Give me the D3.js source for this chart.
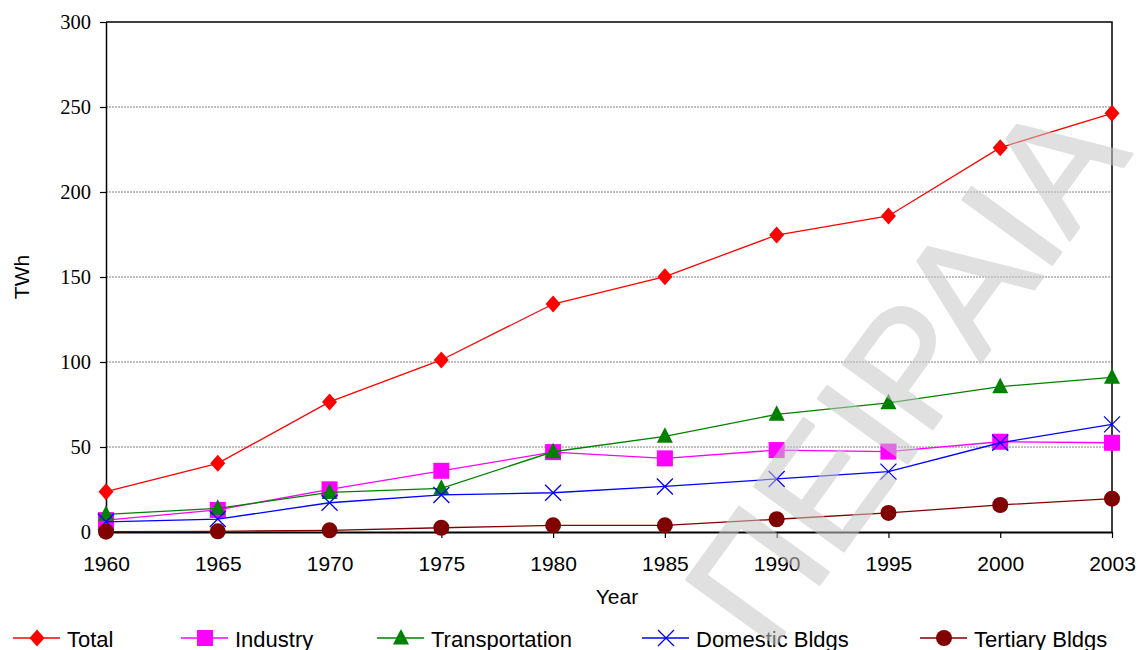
<!DOCTYPE html>
<html>
<head>
<meta charset="utf-8">
<script src="https://cdn.jsdelivr.net/npm/d3@7"></script>
<style>
  html, body { margin: 0; padding: 0; background: #fff; }
  svg { display: block; }
</style>
</head>
<body>
<svg id="chart" width="1138" height="650"></svg>
<script>
// Electricity consumption by sector, TWh
const years = ["1960", "1965", "1970", "1975", "1980", "1985", "1990", "1995", "2000", "2003"];
const total          = [23.7, 40.4, 76.5, 101.2, 134.1, 150.2, 174.7, 185.9, 226.1, 246.3];
const industry       = [7.0, 13.0, 25.1, 36.0, 47.0, 43.3, 48.2, 47.3, 53.1, 52.5];
const transportation = [10.4, 13.9, 23.3, 25.7, 47.2, 56.3, 69.2, 76.0, 85.5, 91.0];
const domestic       = [6.0, 7.6, 17.2, 21.8, 23.1, 26.8, 31.2, 35.5, 52.5, 63.3];
const tertiary       = [0.2, 0.4, 1.0, 2.5, 3.9, 3.9, 7.5, 11.2, 15.9, 19.6];
const yTicks = [0, 50, 100, 150, 200, 250, 300];
const seriesNames = ["Total", "Industry", "Transportation", "Domestic Bldgs", "Tertiary Bldgs"];

const series = [
  { name: seriesNames[0], values: total,          color: "#ff0000", marker: "diamond" },
  { name: seriesNames[1], values: industry,       color: "#ff00ff", marker: "square" },
  { name: seriesNames[2], values: transportation, color: "#008000", marker: "triangle" },
  { name: seriesNames[3], values: domestic,       color: "#0000ff", marker: "cross" },
  { name: seriesNames[4], values: tertiary,       color: "#800000", marker: "circle" }
];

const svg = d3.select("#chart");
const sans = "'Liberation Sans', Arial, Helvetica, sans-serif";
const serif = "'Liberation Serif', 'Times New Roman', serif";

const plotL = 106, plotR = 1112, plotT = 22, plotB = 532;
const x = d3.scalePoint().domain(years).range([plotL, plotR]);
const y = d3.scaleLinear().domain([0, 300]).range([plotB, plotT]);

// horizontal gridlines
svg.append("g")
  .selectAll("line")
  .data(yTicks.filter(v => v > 0 && v < 300))
  .join("line")
  .attr("x1", plotL).attr("x2", plotR)
  .attr("y1", d => y(d)).attr("y2", d => y(d))
  .attr("stroke", "#808080")
  .attr("stroke-width", 1)
  .attr("stroke-dasharray", "2,1");

// frame: top and right edges
svg.append("path")
  .attr("d", `M${plotL},${plotT}H${plotR}V${plotB}`)
  .attr("fill", "none").attr("stroke", "#000").attr("stroke-width", 1.5);

// y axis
const yAxis = svg.append("g")
  .attr("transform", `translate(${plotL},0)`)
  .call(d3.axisLeft(y).tickValues(yTicks).tickSize(6).tickPadding(9).tickSizeOuter(0));
yAxis.select(".domain").attr("stroke-width", 1.5);
yAxis.selectAll(".tick line").attr("stroke-width", 1.2);
yAxis.selectAll("text")
  .attr("font-family", serif).attr("font-size", 20.5).attr("fill", "#000");

// x axis
const xAxis = svg.append("g")
  .attr("transform", `translate(0,${plotB})`)
  .call(d3.axisBottom(x).tickSize(6).tickPadding(18).tickSizeOuter(0));
xAxis.select(".domain").attr("stroke-width", 2);
xAxis.selectAll(".tick line").attr("stroke-width", 1.2);
xAxis.selectAll("text")
  .attr("font-family", sans).attr("font-size", 21).attr("fill", "#000");

// axis titles
svg.append("text")
  .attr("x", 617).attr("y", 604)
  .attr("text-anchor", "middle")
  .attr("font-family", sans).attr("font-size", 21)
  .text("Year");
svg.append("text")
  .attr("transform", "translate(29,277) rotate(-90)")
  .attr("text-anchor", "middle")
  .attr("font-family", sans).attr("font-size", 21)
  .text("TWh");

// marker shapes
function drawMarker(g, type, color) {
  if (type === "diamond") {
    g.append("path").attr("d", "M0,-8.5L7.5,0L0,8.5L-7.5,0Z").attr("fill", color);
  } else if (type === "square") {
    g.append("rect").attr("x", -8).attr("y", -8).attr("width", 16).attr("height", 16).attr("fill", color);
  } else if (type === "triangle") {
    g.append("path").attr("d", "M0,-9L8,6.5L-8,6.5Z").attr("fill", color);
  } else if (type === "cross") {
    g.append("path").attr("d", "M-8,-8L8,8M-8,8L8,-8")
      .attr("stroke", color).attr("stroke-width", 1.3).attr("fill", "none");
  } else if (type === "circle") {
    g.append("circle").attr("r", 8).attr("fill", color);
  }
}

const line = d3.line().x((d, i) => x(years[i])).y(d => y(d));

series.forEach(s => {
  const g = svg.append("g");
  g.append("path")
    .attr("d", line(s.values))
    .attr("fill", "none")
    .attr("stroke", s.color)
    .attr("stroke-width", 1.3);
  s.values.forEach((v, i) => {
    const m = g.append("g").attr("transform", `translate(${x(years[i])},${y(v)})`);
    drawMarker(m, s.marker, s.color);
  });
});

// legend
const legendX = [37, 205, 401, 666, 944];
const legendY = 638;
series.forEach((s, i) => {
  const g = svg.append("g").attr("transform", `translate(${legendX[i]},${legendY})`);
  g.append("line").attr("x1", -24).attr("x2", 23).attr("y1", 0).attr("y2", 0)
    .attr("stroke", s.color).attr("stroke-width", 1.3);
  drawMarker(g.append("g"), s.marker, s.color);
  g.append("text")
    .attr("x", 30).attr("y", 8.5)
    .attr("font-family", sans).attr("font-size", 22)
    .text(s.name);
});

// watermark across the chart
svg.append("g")
  .attr("opacity", 0.55)
  .append("text")
  .attr("transform", "translate(768,655) rotate(-54)")
  .attr("font-family", sans)
  .attr("font-size", 160)
  .attr("fill", "#c8c8c8")
  .attr("stroke", "#c8c8c8")
  .attr("stroke-width", 3)
  .attr("stroke-linejoin", "round")
  .text("ΠΕΙΡΑΙΑ");
</script>
</body>
</html>
